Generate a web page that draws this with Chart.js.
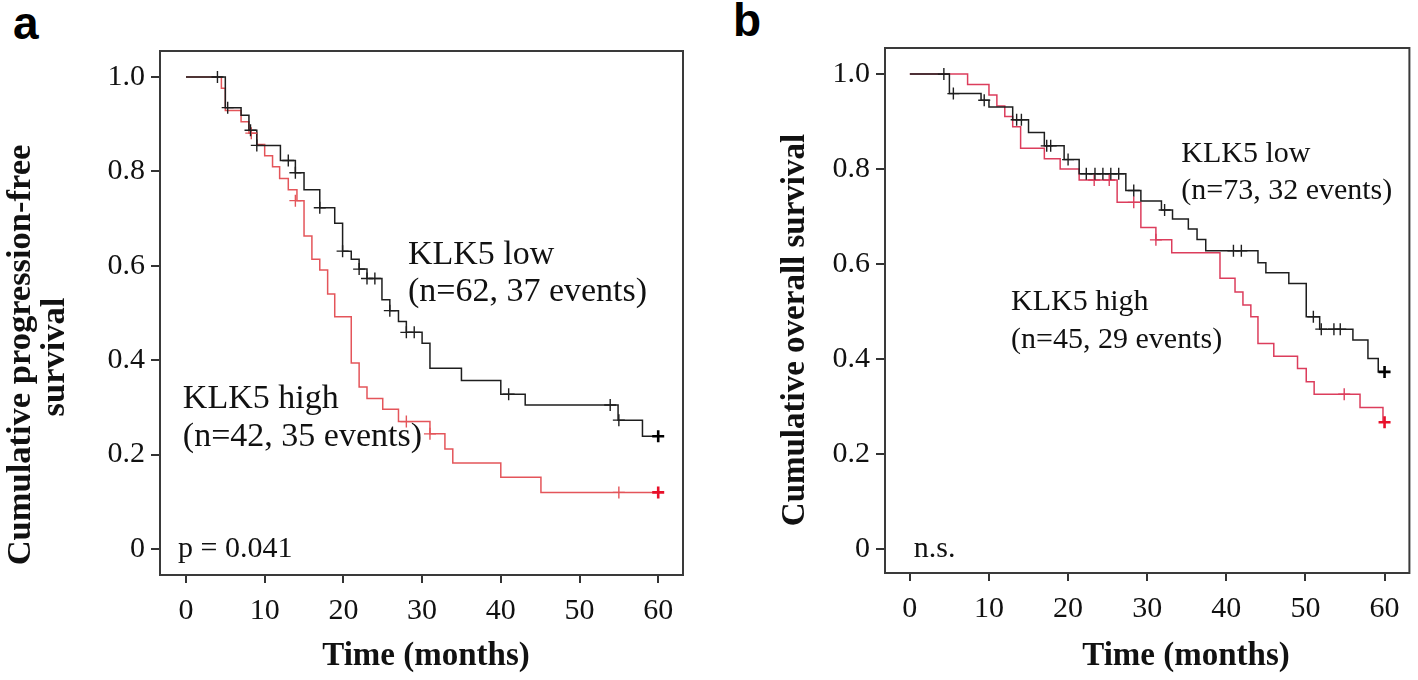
<!DOCTYPE html>
<html>
<head>
<meta charset="utf-8">
<script src="https://cdn.jsdelivr.net/npm/chart.js@4.4.1/dist/chart.umd.min.js"></script>
<style>
  body { margin: 0; background: #fff; width: 1418px; height: 680px; position: relative; overflow: hidden; }
  .wrap { position: absolute; top: 0; height: 680px; }
  #wa { left: 0; width: 700px; }
  #wb { left: 700px; width: 718px; }
  .tag { position: absolute; font: bold 46px "Liberation Sans", Arial, sans-serif; line-height: 1; color: #000; }
</style>
</head>
<body>
<div class="tag" style="left:13px;top:0px">a</div>
<div class="tag" style="left:733px;top:-3px">b</div>
<div class="wrap" id="wa"><canvas id="ca"></canvas></div>
<div class="wrap" id="wb"><canvas id="cb"></canvas></div>
<script>
// axis ticks
var xTicks = [0, 10, 20, 30, 40, 50, 60];
var yTicks = [0, 0.2, 0.4, 0.6, 0.8, 1.0];
var yTickLabels = ['0', '0.2', '0.4', '0.6', '0.8', '1.0'];

// panel a: progression-free survival, [month, survival] after each step
var pfsLow = [[0,1],[5,0.935],[7,0.919],[8,0.887],[9,0.855],[12,0.823],[13.9,0.797],[15,0.761],[17,0.723],
  [18.9,0.690],[19.9,0.631],[21,0.614],[22,0.593],[23,0.573],[24.9,0.528],[25.9,0.505],[27,0.482],[28,0.459],
  [30,0.436],[31,0.383],[35,0.357],[40,0.328],[43.1,0.305],[54.9,0.273],[58,0.239],[60,0.239]];
var pfsLowCens = [[4,1],[5.3,0.935],[8.2,0.887],[9,0.855],[13,0.823],[13.9,0.797],[17,0.723],[19.9,0.631],
  [22,0.593],[23,0.573],[24,0.573],[25.9,0.505],[28,0.459],[29,0.459],[41,0.328],[53.9,0.305],[55,0.273],[60,0.239]];
var pfsHigh = [[0,1],[4.5,0.976],[5,0.929],[7,0.905],[8,0.881],[9,0.857],[10,0.833],[11,0.81],[11.9,0.785],
  [13,0.761],[14.1,0.738],[15,0.663],[16,0.614],[17,0.591],[18,0.540],[18.9,0.492],[21,0.394],[22,0.343],
  [23,0.319],[25,0.296],[27,0.270],[31,0.244],[32.9,0.212],[33.9,0.182],[40,0.152],[45.1,0.120],[60,0.120]];
var pfsHighCens = [[8.3,0.881],[13.9,0.738],[28,0.270],[31,0.244],[55,0.120],[60,0.120]];

// panel b: overall survival
var osLow = [[0,1],[5,0.959],[9,0.945],[10,0.931],[13,0.904],[15,0.877],[17,0.849],[19.5,0.82],[21.4,0.79],
  [27.3,0.755],[29.2,0.733],[31.8,0.714],[33.2,0.695],[35.2,0.674],[36.3,0.652],[37.4,0.628],[44,0.603],
  [45,0.582],[47.9,0.559],[50.1,0.489],[51.8,0.463],[56,0.440],[57.9,0.401],[59.2,0.373],[60,0.373]];
var osLowCens = [[4.3,1],[5.5,0.959],[9.4,0.945],[13.5,0.904],[14.1,0.904],[17.3,0.849],[17.8,0.849],[20,0.82],
  [22.3,0.79],[23.4,0.79],[24.4,0.79],[25.4,0.79],[26.4,0.79],[28.3,0.755],[32.2,0.714],[40.9,0.628],[41.9,0.628],
  [51,0.489],[52,0.463],[53.6,0.463],[54.4,0.463],[60,0.373]];
var osHigh = [[0,1],[7.3,0.978],[10,0.956],[11,0.933],[12,0.911],[13,0.889],[14,0.844],[17,0.822],[19,0.800],
  [21.4,0.777],[26.2,0.730],[29.2,0.677],[31.1,0.651],[33.1,0.624],[39.2,0.570],[41.1,0.541],[42.1,0.514],
  [43.1,0.489],[44,0.433],[46,0.406],[49,0.380],[50.1,0.352],[51.1,0.326],[56.9,0.298],[59.8,0.267],[60,0.267]];
var osHighCens = [[23.3,0.777],[25.2,0.777],[28.3,0.730],[31.1,0.651],[54.9,0.326],[60,0.267]];

function pts(arr) { return arr.map(function (p) { return { x: p[0], y: p[1] }; }); }

function curve(arr, color) {
  return { data: pts(arr), showLine: true, stepped: 'before', borderColor: color, borderWidth: 1.5,
           pointRadius: 0, fill: false, order: 2 };
}
function marks(arr, color, endColor) {
  return { data: pts(arr), showLine: false, pointStyle: 'cross', pointRadius: 6, order: 1,
           pointBorderColor: function (c) { return c.dataIndex === arr.length - 1 ? endColor : color; },
           pointBorderWidth: function (c) { return c.dataIndex === arr.length - 1 ? 2.6 : 1.4; } };
}

var frameAndText = {
  id: 'frameAndText',
  afterDraw: function (chart, args, opts) {
    var ctx = chart.ctx, a = chart.chartArea, xs = chart.scales.x, ys = chart.scales.y;
    ctx.save();
    ctx.strokeStyle = '#3a3a3a';
    ctx.lineWidth = 2;
    ctx.strokeRect(a.left, a.top, a.right - a.left, a.bottom - a.top);
    ctx.fillStyle = '#111';
    ctx.textAlign = 'left';
    ctx.textBaseline = 'alphabetic';
    opts.notes.forEach(function (n) {
      ctx.font = n.size + 'px "Liberation Serif", serif';
      ctx.fillText(n.text, xs.getPixelForValue(n.x), ys.getPixelForValue(n.y));
    });
    ctx.textAlign = 'center';
    ctx.textBaseline = 'middle';
    opts.titles.forEach(function (t) {
      ctx.save();
      ctx.font = 'bold ' + t.size + 'px "Liberation Serif", serif';
      ctx.translate(t.cx, t.cy);
      ctx.rotate(t.rot);
      ctx.fillText(t.text, 0, 0);
      ctx.restore();
    });
    ctx.restore();
  }
};

function makeChart(id, cfg) {
  var tickFont = { family: '"Liberation Serif", serif', size: 30 };
  return new Chart(document.getElementById(id), {
    type: 'scatter',
    data: { datasets: cfg.datasets },
    options: {
      responsive: true, maintainAspectRatio: false, animation: false,
      layout: { padding: cfg.pad },
      plugins: { legend: { display: false }, tooltip: { enabled: false },
                 frameAndText: { notes: cfg.notes, titles: cfg.titles } },
      scales: {
        x: {
          type: 'linear', min: cfg.xr[0], max: cfg.xr[1],
          afterBuildTicks: function (s) { s.ticks = xTicks.map(function (v) { return { value: v }; }); },
          afterFit: function (s) { s.height = cfg.xh; },
          grid: { drawOnChartArea: false, drawTicks: true, tickLength: 8, color: '#333', lineWidth: 2 },
          border: { display: true, color: '#3a3a3a', width: 2 },
          ticks: { font: tickFont, color: '#111', padding: 10, maxRotation: 0 }
        },
        y: {
          type: 'linear', min: cfg.yr[0], max: cfg.yr[1],
          afterBuildTicks: function (s) { s.ticks = yTicks.map(function (v) { return { value: v }; }); },
          afterFit: function (s) { s.width = cfg.yw; },
          grid: { drawOnChartArea: false, drawTicks: true, tickLength: 9, color: '#333', lineWidth: 2 },
          border: { display: true, color: '#3a3a3a', width: 2 },
          ticks: { font: tickFont, color: '#111', padding: 6,
                   callback: function (v, i) { return yTickLabels[i]; } }
        }
      }
    },
    plugins: [frameAndText]
  });
}

var black = '#1e1e1e';

makeChart('ca', {
  pad: { left: 0, right: 17, top: 51, bottom: 0 },
  xr: [-3.3, 63.15], yr: [-0.055, 1.055], xh: 105, yw: 160,
  datasets: [curve(pfsLow, black), curve(pfsHigh, '#e4555a'),
             marks(pfsLowCens, black, '#000'), marks(pfsHighCens, '#e4555a', '#e8102a')],
  notes: [
    { text: 'KLK5 low', x: 28.2, y: 0.604, size: 34 },
    { text: '(n=62, 37 events)', x: 28.2, y: 0.525, size: 34 },
    { text: 'KLK5 high', x: -0.4, y: 0.299, size: 34 },
    { text: '(n=42, 35 events)', x: -0.4, y: 0.218, size: 34 },
    { text: 'p = 0.041', x: -1.0, y: -0.017, size: 30 }
  ],
  titles: [
    { text: 'Cumulative progression-free', cx: 21, cy: 355, rot: -Math.PI / 2, size: 34.5 },
    { text: 'survival', cx: 55, cy: 357, rot: -Math.PI / 2, size: 34.5 },
    { text: 'Time (months)', cx: 426, cy: 656, rot: 0, size: 33 }
  ]
});

makeChart('cb', {
  pad: { left: 0, right: 6, top: 48, bottom: 0 },
  xr: [-3.14, 63.14], yr: [-0.0505, 1.055], xh: 107, yw: 185,
  datasets: [curve(osLow, black), curve(osHigh, '#dc3d5c'),
             marks(osLowCens, black, '#000'), marks(osHighCens, '#dc3d5c', '#e8102a')],
  notes: [
    { text: 'KLK5 low', x: 34.3, y: 0.815, size: 30 },
    { text: '(n=73, 32 events)', x: 34.3, y: 0.737, size: 30 },
    { text: 'KLK5 high', x: 12.8, y: 0.503, size: 30 },
    { text: '(n=45, 29 events)', x: 12.8, y: 0.423, size: 30 },
    { text: 'n.s.', x: 0.5, y: -0.017, size: 30 }
  ],
  titles: [
    { text: 'Cumulative overall survival', cx: 95, cy: 330, rot: -Math.PI / 2, size: 33 },
    { text: 'Time (months)', cx: 486, cy: 656, rot: 0, size: 33 }
  ]
});
</script>
</body>
</html>
